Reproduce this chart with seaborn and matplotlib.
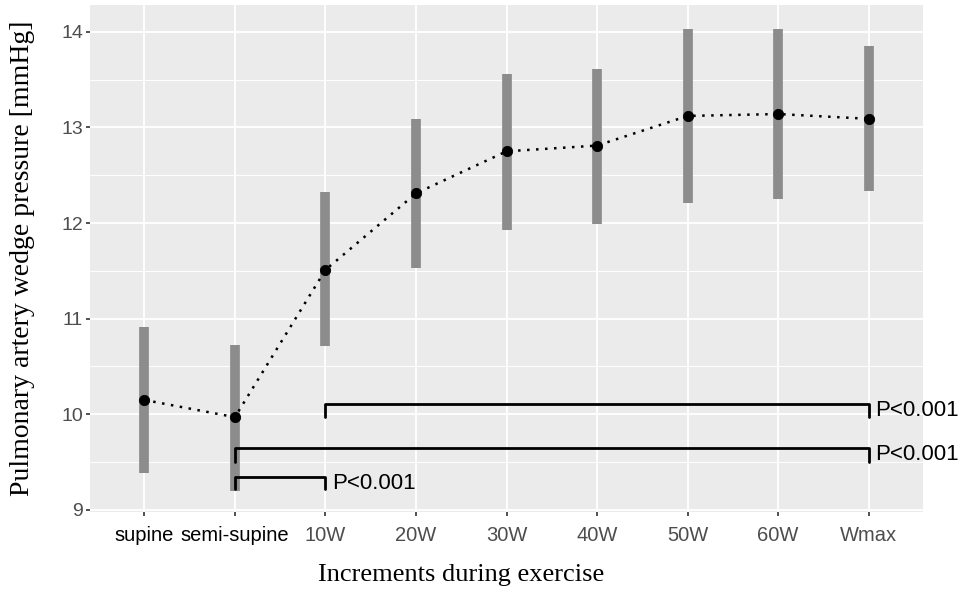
import numpy as np
import pandas as pd
import seaborn as sns
import matplotlib.pyplot as plt
from matplotlib.ticker import MultipleLocator

# values
stages = ["supine", "semi-supine", "10W", "20W", "30W", "40W", "50W", "60W", "Wmax"]
mean_pawp = [10.15, 9.97, 11.51, 12.31, 12.75, 12.81, 13.12, 13.14, 13.09]
upper = [10.91, 10.72, 12.32, 13.09, 13.56, 13.61, 14.03, 14.03, 13.85]
lower = [9.39, 9.20, 10.71, 11.53, 11.93, 11.99, 12.21, 12.25, 12.33]

# significance brackets: (from stage, to stage, bar height, leg bottom)
brackets = [
    ("10W", "Wmax", 10.11, 9.97),
    ("semi-supine", "Wmax", 9.65, 9.50),
    ("semi-supine", "10W", 9.34, 9.22),
]
p_label = "P<0.001"

sns.set_theme(style="darkgrid", rc={
    "axes.facecolor": "#EBEBEB",
    "grid.color": "white",
    "grid.linewidth": 1.3,
    "xtick.bottom": True,
    "ytick.left": True,
    "xtick.color": "#333333",
    "ytick.color": "#333333",
    "xtick.major.size": 3,
    "ytick.major.size": 3,
    "xtick.major.width": 1.2,
    "ytick.major.width": 1.2,
    "xtick.major.pad": 7,
    "ytick.major.pad": 2,
})
plt.rcParams["font.family"] = ["Liberation Sans", "DejaVu Sans"]

df = pd.DataFrame({"stage": stages, "pos": np.arange(len(stages)),
                   "mean": mean_pawp, "lo": lower, "hi": upper})

fig = plt.figure(figsize=(9.68, 5.89), dpi=100)
ax = fig.add_axes([0.093, 0.131, 0.8605, 0.8605])

# gray ranges
ax.vlines(df["pos"], df["lo"], df["hi"], color="#8C8C8C", linewidth=7, zorder=2)
# dotted mean line + points
sns.lineplot(data=df, x="pos", y="mean", ax=ax, color="black",
             linestyle=(0, (1, 2.6)), linewidth=1.8, zorder=3)
sns.scatterplot(data=df, x="pos", y="mean", ax=ax, color="black", s=55,
                edgecolor="black", zorder=4)

idx = {s: i for i, s in enumerate(stages)}
for a, b, top, leg in brackets:
    xa, xb = idx[a], idx[b]
    ax.plot([xa, xa, xb, xb], [leg, top, top, leg], color="black",
            linewidth=2, solid_joinstyle="round", zorder=5)
    ymid = (top + leg) / 2
    ax.text(xb + 0.07, ymid, p_label, ha="left", va="center", fontsize=16,
            color="black", clip_on=False)

ax.set_xlim(-0.6, len(stages) - 1 + 0.6)
ax.set_ylim(8.98, 14.28)
ax.set_xticks(df["pos"])
ax.set_xticklabels(stages, fontsize=14.5)
for i, lab in enumerate(ax.get_xticklabels()):
    lab.set_color("black" if i < 2 else "#4D4D4D")
ax.yaxis.set_major_locator(MultipleLocator(1))
ax.yaxis.set_minor_locator(MultipleLocator(0.5))
ax.tick_params(axis="y", labelsize=14, labelcolor="#4D4D4D")
ax.grid(which="minor", axis="y", color="white", linewidth=0.7)
ax.tick_params(which="minor", left=False)
for sp in ax.spines.values():
    sp.set_visible(False)

ax.set_xlabel("Increments during exercise", family="Liberation Serif",
              fontsize=19, color="black")
ax.xaxis.set_label_coords(0.445, -0.102)
ax.set_ylabel("Pulmonary artery wedge pressure [mmHg]", family="Liberation Serif",
              fontsize=20, color="black", labelpad=19)

fig.savefig("out.png", dpi=100)
